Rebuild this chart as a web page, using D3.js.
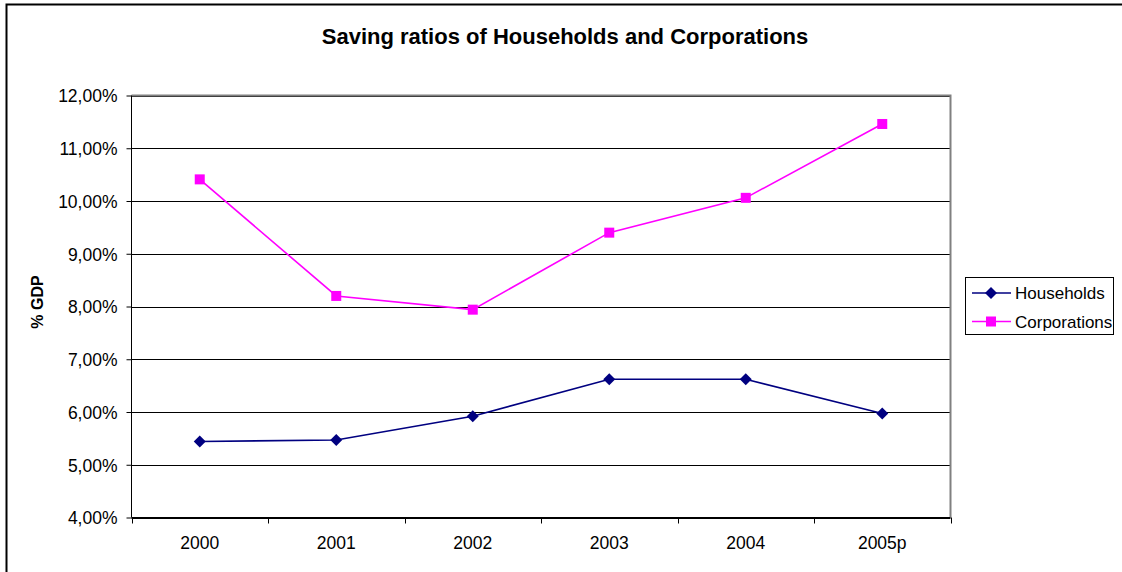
<!DOCTYPE html>
<html>
<head>
<meta charset="utf-8">
<script src="https://cdn.jsdelivr.net/npm/d3@7"></script>
<style>
  html, body { margin: 0; padding: 0; background: #fff; }
  svg { display: block; }
  text { font-family: "Liberation Sans", Arial, sans-serif; fill: #000; }
</style>
</head>
<body>
<script>
// Saving ratios (% of GDP)
const years = ["2000", "2001", "2002", "2003", "2004", "2005p"];
const households = [5.44, 5.47, 5.92, 6.62, 6.62, 5.97];
const corporations = [10.41, 8.20, 7.94, 9.40, 10.06, 11.46];
const yTicks = [4, 5, 6, 7, 8, 9, 10, 11, 12];

const W = 1122, H = 572;
const plot = { left: 131.5, right: 950.5, top: 95.5, bottom: 517.5 };

const svg = d3.select("body").append("svg")
  .attr("width", W).attr("height", H);

// chart frame
svg.append("path")
  .attr("d", `M6.5,${H + 2} V4.5 H${W + 2}`)
  .attr("fill", "none").attr("stroke", "#000").attr("stroke-width", 2);

const x = d3.scaleBand().domain(years).range([plot.left, plot.right]);
const y = d3.scaleLinear().domain([4, 12]).range([plot.bottom, plot.top]);

// title
svg.append("text")
  .attr("x", 565).attr("y", 44)
  .attr("text-anchor", "middle")
  .attr("font-size", 22).attr("font-weight", "bold")
  .text("Saving ratios of Households and Corporations");

// gridlines
svg.append("g").selectAll("line").data(yTicks).join("line")
  .attr("x1", plot.left).attr("x2", plot.right)
  .attr("y1", d => Math.round(y(d)) + 0.5).attr("y2", d => Math.round(y(d)) + 0.5)
  .attr("stroke", "#000").attr("stroke-width", 1);

// plot area border (right and top)
svg.append("path")
  .attr("d", `M${plot.left},${plot.top} H${plot.right} V${plot.bottom}`)
  .attr("fill", "none").attr("stroke", "#808080").attr("stroke-width", 2);

const fmt = v => d3.format(".2f")(v).replace(".", ",") + "%";

// y axis
const yAxis = svg.append("g")
  .attr("transform", `translate(${plot.left},0)`)
  .call(d3.axisLeft(y).tickValues(yTicks).tickSize(5).tickPadding(9).tickFormat(fmt));
yAxis.selectAll("text").attr("font-size", 17.5)
  .attr("font-family", "Liberation Sans, Arial, sans-serif").attr("dy", "0.36em");
yAxis.selectAll("line, path").attr("stroke", "#000");
yAxis.select(".domain").attr("d", `M0,${plot.top}V${plot.bottom}`);

// x axis: ticks at category boundaries
const xg = svg.append("g").attr("transform", `translate(0,${plot.bottom})`);
xg.append("line").attr("x1", plot.left).attr("x2", plot.right)
  .attr("stroke", "#000");
const bounds = years.map(d => x(d)).concat([plot.right]);
xg.selectAll("line.tick").data(bounds).join("line")
  .attr("class", "tick")
  .attr("x1", d => Math.round(d) + 0.5).attr("x2", d => Math.round(d) + 0.5)
  .attr("y1", 0).attr("y2", 6).attr("stroke", "#000");
xg.selectAll("text").data(years).join("text")
  .attr("x", d => x(d) + x.bandwidth() / 2)
  .attr("y", 31.5)
  .attr("text-anchor", "middle")
  .attr("font-size", 17.5)
  .text(d => d);

// y axis title
svg.append("text")
  .attr("transform", "translate(43,302) rotate(-90)")
  .attr("text-anchor", "middle")
  .attr("font-size", 16).attr("font-weight", "bold")
  .text("% GDP");

const cx = d => x(d) + x.bandwidth() / 2;
const series = [
  { name: "Households", values: households, color: "#000080", shape: d3.symbolDiamond },
  { name: "Corporations", values: corporations, color: "#FF00FF", shape: d3.symbolSquare }
];

const line = d3.line().x((d, i) => cx(years[i])).y(d => y(d));

function marker(g, s) {
  if (s.shape === d3.symbolDiamond) {
    g.append("path").attr("d", "M0,-6 L6,0 L0,6 L-6,0 Z").attr("fill", s.color);
  } else {
    g.append("rect").attr("x", -5).attr("y", -5).attr("width", 10).attr("height", 10)
      .attr("fill", s.color);
  }
}

series.forEach(s => {
  svg.append("path").datum(s.values)
    .attr("d", line)
    .attr("fill", "none").attr("stroke", s.color).attr("stroke-width", 1.6);
  s.values.forEach((v, i) => {
    const g = svg.append("g").attr("transform", `translate(${cx(years[i])},${y(v)})`);
    marker(g, s);
  });
});

// legend
const lg = svg.append("g");
lg.append("rect")
  .attr("x", 965.5).attr("y", 277.5).attr("width", 148).attr("height", 57)
  .attr("fill", "#fff").attr("stroke", "#000").attr("stroke-width", 1);
series.forEach((s, i) => {
  const yy = 293 + i * 28.5;
  lg.append("line").attr("x1", 972).attr("x2", 1011).attr("y1", yy).attr("y2", yy)
    .attr("stroke", s.color).attr("stroke-width", 1.6);
  const g = lg.append("g").attr("transform", `translate(991,${yy})`);
  marker(g, s);
  lg.append("text").attr("x", 1015).attr("y", yy).attr("dy", "0.36em")
    .attr("font-size", 17).text(s.name);
});
</script>
</body>
</html>
